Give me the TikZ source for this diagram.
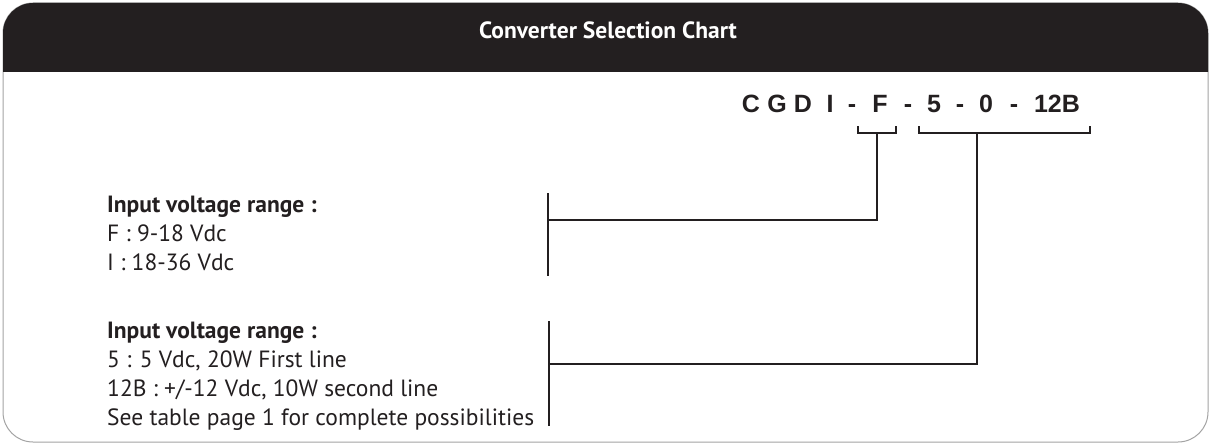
\documentclass[tikz,border=0pt]{standalone}
\usepackage{fontspec}
\setmainfont{PT Sans}
\newfontfamily\codefont{Liberation Sans}
\usetikzlibrary{positioning}
\definecolor{band}{HTML}{231F20}
\definecolor{rim}{HTML}{A3A3A3}
\tikzset{
    x=1pt, y=-1pt, % one unit is one pixel of the chart, y runs downwards
    wire/.style={draw=band, line width=1.8pt}, % the brackets and leader lines
    bar/.style={draw=band, line width=2pt}, % the vertical bars beside the legends
    legend/.style={anchor=base west, inner sep=0pt, text=band, font=\fontsize{23.5}{28}\selectfont},
    code/.style={anchor=base, inner sep=0pt, text=band, font=\codefont\bfseries\fontsize{25}{28}\selectfont},
}

\begin{document}
\begin{tikzpicture}
    \useasboundingbox (0,0) rectangle (1211,444);
    % frame and header band
    \draw[rim, line width=1pt, fill=white, rounded corners=30pt] (3,3) rectangle (1208,442);
    \begin{scope}
        \clip (0,0) rectangle (1211,72);
        \fill[band, rounded corners=30pt] (3,3) rectangle (1208,442);
    \end{scope}
    \node[font=\bfseries\fontsize{23.5}{28}\selectfont, text=white, anchor=base] (title) at (608,39) {Converter Selection Chart};
    % part number
    \foreach \cx/\ct/\cn in {751/C/cC, 777/G/cG, 803/D/cD, 830/I/cI, 852/-/h1, 880/F/cF, 908/-/h2, 934/5/c5, 960/-/h3, 986/0/c0, 1014/-/h4, 1057/12B/c12}
        \node[code] (\cn) at (\cx,112) {\ct};
    % brackets under the code
    \draw[wire] (858,126) |- (896,133) -- (896,126);
    \draw[wire] (919,126) |- (1090,133) -- (1090,126);
    \coordinate (fbr) at (877,133);
    \coordinate (vbr) at (977,133);
    % legends
    \node[legend, font=\bfseries\fontsize{23.5}{28}\selectfont] (in1) at (107,212) {Input voltage range :};
    \node[legend] (in1a) at (107,241) {F : 9-18 Vdc};
    \node[legend] (in1b) at (107,270) {I : 18-36 Vdc};
    \node[legend, font=\bfseries\fontsize{23.5}{28}\selectfont] (in2) at (107,338) {Input voltage range :};
    \node[legend] (in2a) at (107,367) {5 : 5 Vdc, 20W First line};
    \node[legend] (in2b) at (107,396) {12B : +/-12 Vdc, 10W second line};
    \node[legend] (in2c) at (107,425) {See table page 1 for complete possibilities};
    % bars and leader lines
    \coordinate (bar1) at (548,220);
    \coordinate (bar2) at (549,364);
    \draw[bar] (548,193) -- (548,276);
    \draw[bar] (549,321) -- (549,426);
    \draw[wire] (fbr) |- (bar1);
    \draw[wire] (vbr) |- (bar2);
\end{tikzpicture}
\end{document}
